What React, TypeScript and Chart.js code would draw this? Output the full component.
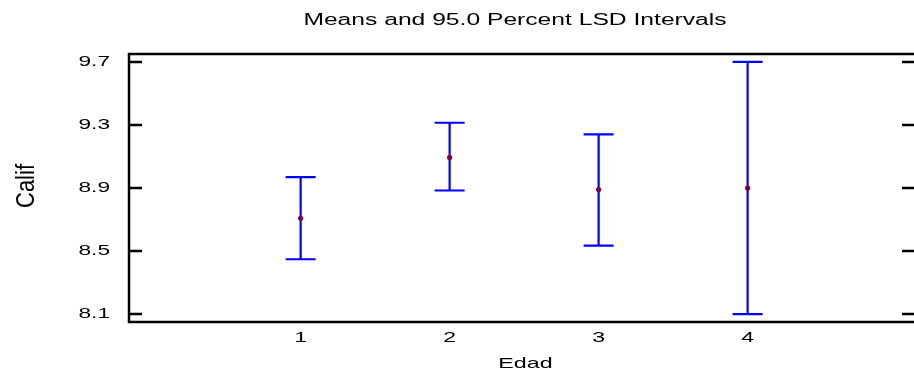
import React, { useEffect, useRef } from "react";
import { Chart, registerables } from "chart.js";

Chart.register(...registerables);

const TITLE = "Means and 95.0 Percent LSD Intervals";
const X_TITLE = "Edad";
const Y_TITLE = "Calif";
const CATEGORIES = ["1", "2", "3", "4"];
const X_VALUES = [1, 2, 3, 4];
const MEANS = [8.708, 9.094, 8.89, 8.9];
const LOWER = [8.448, 8.884, 8.534, 8.1];
const UPPER = [8.969, 9.314, 9.24, 9.7];
const Y_TICKS = [8.1, 8.5, 8.9, 9.3, 9.7];

const FONT = "'Liberation Sans', Arial, sans-serif";

function stretchedText(
  ctx: CanvasRenderingContext2D,
  text: string,
  x: number,
  y: number,
  size: number,
  sx: number,
  align: CanvasTextAlign,
  baseline: CanvasTextBaseline
) {
  ctx.save();
  ctx.translate(x, y);
  ctx.scale(sx, 1);
  ctx.font = `${size}px ${FONT}`;
  ctx.fillStyle = "#000";
  ctx.textAlign = align;
  ctx.textBaseline = baseline;
  ctx.fillText(text, 0, 0);
  ctx.restore();
}

const intervalPlugin = {
  id: "lsdIntervals",
  beforeDatasetsDraw(chart: any) {
    const { ctx, scales } = chart;
    const xs = scales.x;
    const ys = scales.y;
    ctx.save();
    ctx.strokeStyle = "#0000FF";
    ctx.lineWidth = 2.2;
    const cap = 15;
    for (let i = 0; i < X_VALUES.length; i++) {
      const x = xs.getPixelForValue(X_VALUES[i]);
      const yl = ys.getPixelForValue(LOWER[i]);
      const yu = ys.getPixelForValue(UPPER[i]);
      ctx.beginPath();
      ctx.moveTo(x, yu);
      ctx.lineTo(x, yl);
      ctx.moveTo(x - cap, yu);
      ctx.lineTo(x + cap, yu);
      ctx.moveTo(x - cap, yl);
      ctx.lineTo(x + cap, yl);
      ctx.stroke();
    }
    ctx.restore();
  },
  afterDraw(chart: any) {
    const { ctx, chartArea, scales } = chart;
    const { left, right, top, bottom } = chartArea;
    const ys = scales.y;
    const xs = scales.x;
    ctx.save();
    // frame
    ctx.strokeStyle = "#000";
    ctx.lineWidth = 2.5;
    ctx.lineJoin = "miter";
    ctx.beginPath();
    ctx.moveTo(right + 5, top);
    ctx.lineTo(left, top);
    ctx.lineTo(left, bottom);
    ctx.lineTo(right + 5, bottom);
    ctx.stroke();
    // y ticks
    ctx.lineWidth = 2.5;
    for (const v of Y_TICKS) {
      const y = ys.getPixelForValue(v);
      ctx.beginPath();
      ctx.moveTo(left, y);
      ctx.lineTo(left + 13, y);
      ctx.moveTo(right - 8, y);
      ctx.lineTo(right + 5, y);
      ctx.stroke();
      stretchedText(ctx, v.toFixed(1), left - 19, y + 0.5, 14, 1.62, "right", "middle");
    }
    // x labels
    for (let i = 0; i < CATEGORIES.length; i++) {
      const x = xs.getPixelForValue(X_VALUES[i]);
      stretchedText(ctx, CATEGORIES[i], x, bottom + 16.5, 14, 1.65, "center", "middle");
    }
    // titles
    stretchedText(ctx, TITLE, 515, 24.7, 16, 1.54, "center", "alphabetic");
    stretchedText(ctx, X_TITLE, 525.5, 368.3, 15, 1.55, "center", "alphabetic");
    ctx.save();
    ctx.translate(33.5, (top + bottom) / 2 - 2);
    ctx.rotate(-Math.PI / 2);
    ctx.scale(1, 1.15);
    ctx.font = `22px ${FONT}`;
    ctx.fillStyle = "#000";
    ctx.textAlign = "center";
    ctx.textBaseline = "alphabetic";
    ctx.fillText(Y_TITLE, 0, 0);
    ctx.restore();
    ctx.restore();
  },
};

export default function App() {
  const ref = useRef<HTMLCanvasElement | null>(null);
  useEffect(() => {
    document.body.style.margin = "0";
    const canvas = ref.current;
    if (!canvas) return;
    const chart = new Chart(canvas, {
      type: "scatter",
      data: {
        datasets: [
          {
            label: "Means",
            data: X_VALUES.map((x, i) => ({ x, y: MEANS[i] })),
            pointRadius: 2.6,
            pointBackgroundColor: "#80004a",
            pointBorderWidth: 0,
            showLine: false,
          },
        ],
      },
      options: {
        responsive: false,
        animation: false,
        devicePixelRatio: 1,
        layout: { padding: { left: 129, top: 54, right: 0, bottom: 49 } },
        plugins: {
          legend: { display: false },
          title: { display: false },
          tooltip: { enabled: false },
        },
        scales: {
          x: { type: "linear", min: -0.152, max: 5.09, display: false },
          y: { type: "linear", min: 8.05, max: 9.75, display: false },
        },
      },
      plugins: [intervalPlugin],
    });
    return () => chart.destroy();
  }, []);
  return (
    <div style={{ width: 914, height: 371, background: "#fff" }}>
      <canvas ref={ref} width={914} height={371} style={{ display: "block" }} />
    </div>
  );
}
